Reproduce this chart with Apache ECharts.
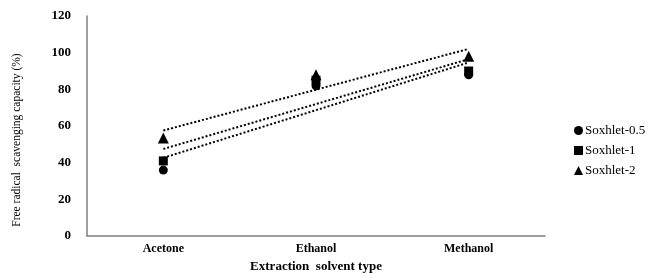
<!DOCTYPE html>
<html>
<head>
<meta charset="utf-8">
<script src="https://cdn.jsdelivr.net/npm/echarts@6/dist/echarts.min.js"></script>
<style>
  html, body { margin: 0; padding: 0; background: #fff; }
  #chart { width: 659px; height: 278px; }
</style>
</head>
<body>
<div id="chart"></div>
<script>
var categories = ['Acetone', 'Ethanol', 'Methanol'];
var soxhlet05 = [36, 82, 88];
var soxhlet1 = [41, 85, 90];
var soxhlet2 = [53.5, 88, 98];
var seriesNames = ['Soxhlet-0.5', 'Soxhlet-1', 'Soxhlet-2'];
var symbols = ['circle', 'rect', 'triangle'];

// linear trendline (least squares over category index 1..n), like Excel
function trend(vals) {
    var n = vals.length, sx = 0, sy = 0, sxy = 0, sxx = 0;
    for (var i = 0; i < n; i++) {
        var x = i + 1;
        sx += x; sy += vals[i]; sxy += x * vals[i]; sxx += x * x;
    }
    var b = (n * sxy - sx * sy) / (n * sxx - sx * sx);
    var a = (sy - b * sx) / n;
    var out = [];
    for (var i = 0; i < n; i++) out.push(a + b * (i + 1));
    return out;
}

var serif = 'Liberation Serif';
var allData = [soxhlet05, soxhlet1, soxhlet2];
var series = [];
for (var i = 0; i < allData.length; i++) {
    series.push({
        name: seriesNames[i] + ' trend',
        type: 'line',
        data: trend(allData[i]),
        symbol: 'none',
        silent: true,
        lineStyle: { color: '#000', width: 2, type: [2, 2] },
        z: 1
    });
}
for (var i = 0; i < allData.length; i++) {
    series.push({
        name: seriesNames[i],
        type: 'scatter',
        data: allData[i],
        symbol: symbols[i],
        symbolSize: symbols[i] === 'triangle' ? 11 : 9,
        itemStyle: { color: '#000', opacity: 1 },
        z: 3
    });
}

var chart = echarts.init(document.getElementById('chart'));
chart.setOption({
    animation: false,
    grid: { left: 87, right: 114, top: 16, bottom: 41 },
    legend: {
        data: seriesNames.map(function (n, i) { return { name: n, icon: symbols[i] }; }),
        orient: 'vertical',
        left: 569,
        top: 119,
        itemWidth: 9,
        itemHeight: 9,
        itemGap: 7,
        textStyle: { fontFamily: serif, fontSize: 13, color: '#000', padding: [0, 0, 0, -3] }
    },
    xAxis: {
        type: 'category',
        data: categories,
        boundaryGap: true,
        name: 'Extraction  solvent type',
        nameLocation: 'middle',
        nameGap: 23,
        nameTextStyle: { fontFamily: serif, fontSize: 13, fontWeight: 'bold', color: '#000' },
        axisLine: { lineStyle: { color: '#808080', width: 1.5 } },
        axisTick: { show: false },
        axisLabel: { fontFamily: serif, fontSize: 12, fontWeight: 'bold', color: '#000', margin: 7 }
    },
    yAxis: {
        type: 'value',
        min: 0,
        max: 120,
        interval: 20,
        name: 'Free radical  scavenging capacity (%)',
        nameLocation: 'middle',
        nameGap: 64,
        nameTextStyle: { fontFamily: serif, fontSize: 11.5, color: '#000', padding: [0, 28, 0, 0] },
        axisLine: { show: true, lineStyle: { color: '#808080', width: 1.5 } },
        axisTick: { show: false },
        splitLine: { show: false },
        axisLabel: { fontFamily: serif, fontSize: 13, fontWeight: 'bold', color: '#000', margin: 16 }
    },
    series: series
});
</script>
</body>
</html>
